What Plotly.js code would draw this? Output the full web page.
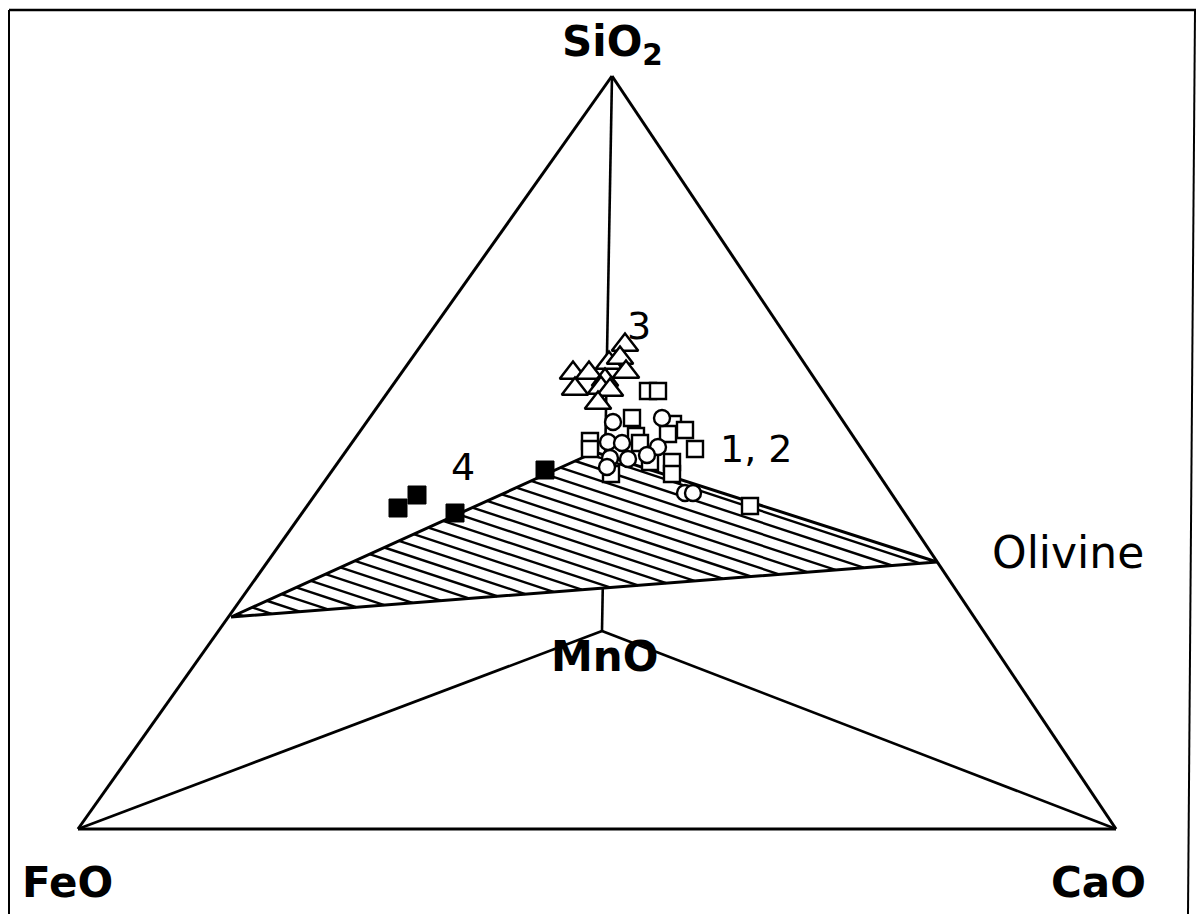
<!DOCTYPE html>
<html><head><meta charset="utf-8">
<script src="https://cdn.plot.ly/plotly-3.0.1.min.js"></script>
<style>html,body{margin:0;padding:0;background:#fff}#chart{width:1201px;height:914px}</style>
</head><body><div id="chart"></div>
<script>
// ---- diagram data (projected tetrahedron units, y grows downward) ----
const vertexNames = ['FeO', 'SiO2', 'CaO', 'MnO'];
const vertexX = [78, 612, 1116, 602];
const vertexY = [829, 76, 829, 631];

// olivine field (hatched plane)
const olivineX = [231, 595, 937];
const olivineY = [617, 452, 562];

// group 1 – open squares
const sqX = [648, 658, 632, 673, 685, 668, 695, 590, 590, 636, 640, 650, 672, 672, 611, 750];
const sqY = [391, 391, 418, 424, 430, 434, 449, 441, 449, 436, 443, 462, 462, 474, 474, 506];
// group 2 – open circles
const ciX = [613, 662, 608, 622, 658, 610, 607, 628, 647, 685, 693];
const ciY = [422, 418, 442, 443, 447, 458, 467, 459, 455, 493, 493];
// group 3 – open triangles
const trX = [625, 609, 620, 626, 573, 589, 605, 575, 601, 610, 598];
const trY = [345, 363, 358, 372, 373, 373, 380, 389, 388, 390, 403];
// group 4 – filled squares
const fsX = [398, 417, 455, 545];
const fsY = [508, 495, 513, 470];

// ---- helpers ----
function P(i){ return [vertexX[i], vertexY[i]]; }
const tri = olivineX.map((x,i)=>[x, olivineY[i]]);

function segInter(A,B,Pp,Q){
  const rx=B[0]-A[0], ry=B[1]-A[1], sx=Q[0]-Pp[0], sy=Q[1]-Pp[1];
  const den = rx*sy - ry*sx;
  if (Math.abs(den) < 1e-9) return null;
  const t = ((Pp[0]-A[0])*sy - (Pp[1]-A[1])*sx)/den;
  const u = ((Pp[0]-A[0])*ry - (Pp[1]-A[1])*rx)/den;
  if (t>=0 && t<=1 && u>=0 && u<=1) return t;
  return null;
}

// hatch lines clipped to the olivine triangle
const hatchSlope = 0.33, hatchStep = 11.5;
const cs = tri.map(p=>p[1]-hatchSlope*p[0]);
const cmin = Math.min(...cs), cmax = Math.max(...cs);
const hx=[], hy=[];
for (let c = cmin + hatchStep*0.6; c < cmax; c += hatchStep){
  const pts=[];
  for (let k=0;k<3;k++){
    const Pp=tri[k], Q=tri[(k+1)%3];
    const dx=Q[0]-Pp[0], dy=Q[1]-Pp[1];
    const den = dy - hatchSlope*dx;
    if (Math.abs(den)<1e-9) continue;
    const t = (hatchSlope*Pp[0] + c - Pp[1])/den;
    if (t>=0 && t<=1) pts.push([Pp[0]+t*dx, Pp[1]+t*dy]);
  }
  if (pts.length>=2){
    pts.sort((a,b)=>a[0]-b[0]);
    const a=pts[0], b=pts[pts.length-1];
    hx.push(a[0], b[0], null); hy.push(a[1], b[1], null);
  }
}

// outer triangle + MnO edges
const ex=[], ey=[];
function seg(a,b){ ex.push(a[0],b[0],null); ey.push(a[1],b[1],null); }
seg(P(0),P(1)); seg(P(1),P(2)); seg(P(2),P(0));
const thinX=[], thinY=[];
function thin(a,b){ thinX.push(a[0],b[0],null); thinY.push(a[1],b[1],null); }
thin(P(0),P(3)); thin(P(2),P(3));
// SiO2–MnO edge, hidden where it passes behind the olivine plane
(function(){
  const A=P(1), B=P(3); const ts=[];
  for (let k=0;k<3;k++){ const t=segInter(A,B,tri[k],tri[(k+1)%3]); if(t!==null) ts.push(t); }
  ts.sort((a,b)=>a-b);
  const at=t=>[A[0]+t*(B[0]-A[0]), A[1]+t*(B[1]-A[1])];
  if (ts.length>=2){ thin(A,at(ts[0])); thin(at(ts[ts.length-1]),B); } else thin(A,B);
})();
// olivine outline
const ox = [...olivineX, olivineX[0]], oy = [...olivineY, olivineY[0]];

const traces = [
  {x:hx, y:hy, mode:'lines', line:{color:'#000', width:2.4}, hoverinfo:'skip'},
  {x:ox, y:oy, mode:'lines', line:{color:'#000', width:3}, hoverinfo:'skip'},
  {x:ex, y:ey, mode:'lines', line:{color:'#000', width:3}, hoverinfo:'skip'},
  {x:thinX, y:thinY, mode:'lines', line:{color:'#000', width:2.6}, hoverinfo:'skip'},
  {x:trX, y:trY, mode:'markers', marker:{symbol:'triangle-up', size:23, color:'#fff', line:{color:'#000', width:2.5}}},
  {x:sqX, y:sqY, mode:'markers', marker:{symbol:'square', size:16, color:'#fff', line:{color:'#000', width:2.4}}},
  {x:ciX, y:ciY, mode:'markers', marker:{symbol:'circle', size:16, color:'#fff', line:{color:'#000', width:2.4}}},
  {x:fsX, y:fsY, mode:'markers', marker:{symbol:'square', size:18, color:'#000', line:{color:'#000', width:1}}}
];

const bold = {family:'DejaVu Sans', size:42, color:'#000', weight:'bold'};
const reg = {family:'DejaVu Sans', size:38, color:'#000'};
const annotations = [
  {x:612, y:44, text:'SiO<sub>2</sub>', font:bold, xanchor:'center', yanchor:'middle'},
  {x:67, y:882, text:'FeO', font:bold, xanchor:'center', yanchor:'middle'},
  {x:1098, y:882, text:'CaO', font:bold, xanchor:'center', yanchor:'middle'},
  {x:604, y:656, text:'MnO', font:bold, xanchor:'center', yanchor:'middle'},
  {x:990, y:552, text:'Olivine', font:{family:'DejaVu Sans', size:44, color:'#000'}, xanchor:'left', yanchor:'middle'},
  {x:639, y:326, text:'3', font:reg, xanchor:'center', yanchor:'middle'},
  {x:463, y:467, text:'4', font:reg, xanchor:'center', yanchor:'middle'},
  {x:718, y:449, text:'1, 2', font:reg, xanchor:'left', yanchor:'middle'}
].map(a=>Object.assign({showarrow:false, xref:'x', yref:'y'}, a));

const shapes = [
  {type:'line', x0:9, y0:10, x1:1196, y1:10, line:{color:'#000', width:2.5}},
  {type:'line', x0:9, y0:10, x1:9, y1:914, line:{color:'#000', width:2}},
  {type:'line', x0:1195, y0:10, x1:1188, y1:914, line:{color:'#000', width:2}}
].map(s=>Object.assign({xref:'x', yref:'y'}, s));

const layout = {
  width:1201, height:914, margin:{l:0,r:0,t:0,b:0},
  paper_bgcolor:'#fff', plot_bgcolor:'#fff', showlegend:false,
  xaxis:{range:[0,1201], visible:false, fixedrange:true},
  yaxis:{range:[914,0], visible:false, fixedrange:true},
  annotations, shapes
};
Plotly.newPlot('chart', traces, layout, {displayModeBar:false, staticPlot:true});
</script></body></html>
